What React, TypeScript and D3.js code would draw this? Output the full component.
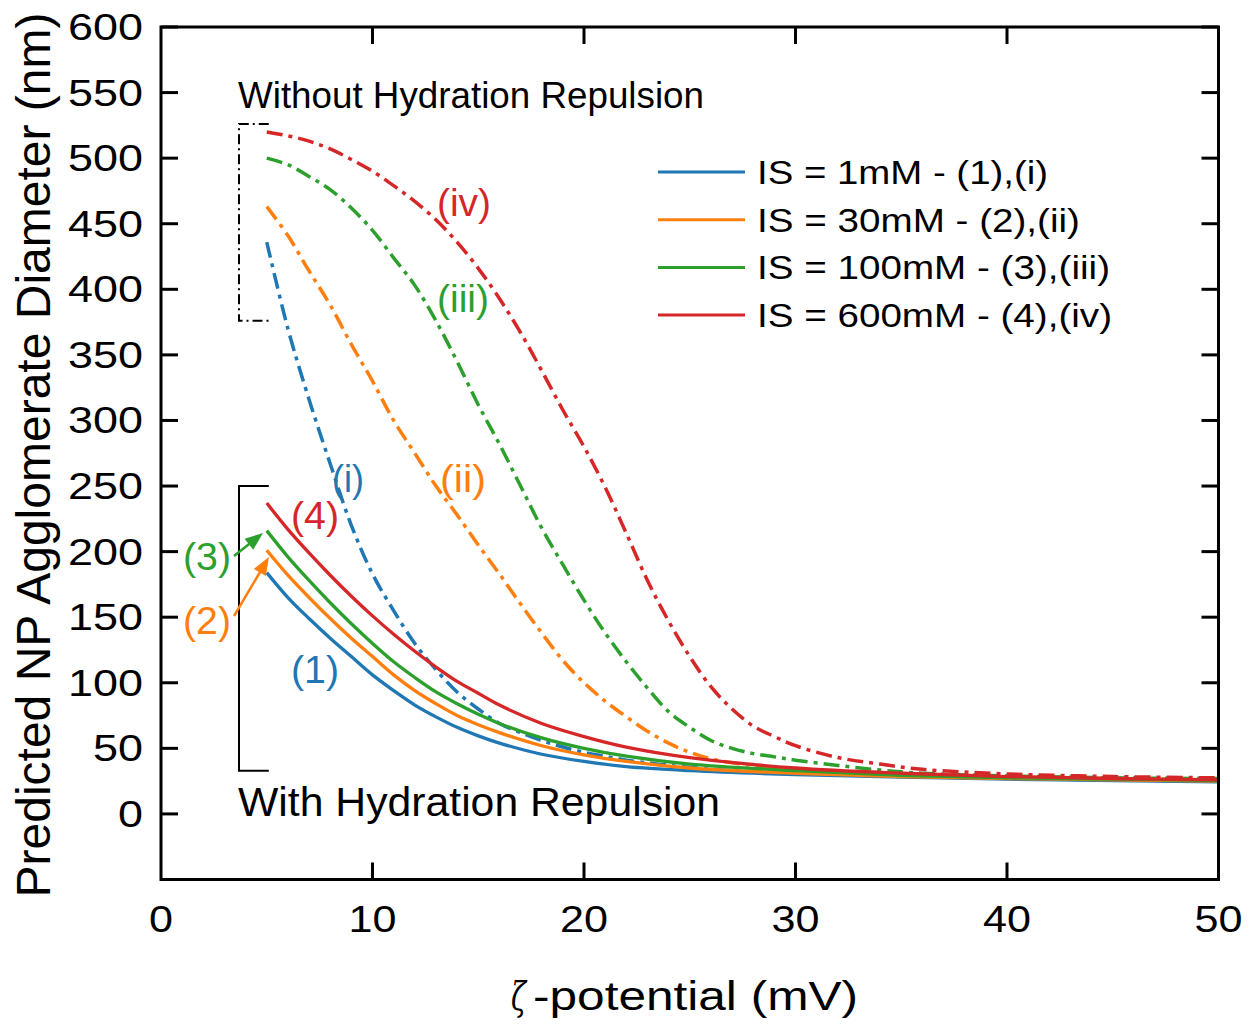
import React from "react";
import * as d3 from "d3";

// ---------- data ----------
const xTicks = [0, 10, 20, 30, 40, 50];
const yTicks = [0, 50, 100, 150, 200, 250, 300, 350, 400, 450, 500, 550, 600];

const seriesNames = ["IS = 1mM - (1),(i)", "IS = 30mM - (2),(ii)", "IS = 100mM - (3),(iii)", "IS = 600mM - (4),(iv)"];
const seriesColors = ["#1f77b4", "#ff7f0e", "#2ca02c", "#d62728"];

// With hydration repulsion (solid)
const solidX = [5, 6, 7, 8, 9, 10, 11, 12, 13, 14, 15, 16, 18, 20, 22, 25, 30, 35, 40, 45, 50];
const solid1 = [184, 165, 149, 134, 120, 106, 94, 83, 74, 66, 59.5, 54, 45.5, 40, 36, 33, 30, 28, 26.5, 25.5, 24.5];
const solid2 = [201, 182, 165, 149, 134, 120, 106, 94, 84, 75, 68, 62, 52, 45, 40, 35, 31, 28.5, 27, 26, 25];
const solid3 = [216, 196, 178, 161, 145, 130, 116, 104, 93, 84, 76, 69, 58, 50, 44, 38, 33, 29.5, 27.5, 26.5, 25.5];
const solid4 = [237, 217, 199, 182, 166, 151, 137, 124, 112, 101, 92, 83, 69, 59, 51, 43, 35, 31, 28.5, 27, 26];

// Without hydration repulsion (dash-dot)
const dashX = [5, 6, 7, 8, 9, 10, 11, 12, 13, 14, 15, 16, 17, 18, 19, 20, 21, 22, 23, 24, 25, 26, 27, 28, 29, 30, 32, 34, 36, 40, 45, 50];
const dash1 = [436, 370, 316, 267, 220, 183, 155, 130, 110, 93, 80, 69, 62, 56, 51, 47, 44, 41, 39, 37, 35.5, 34, 33, 32, 31.5, 31, 30, 29, 28.5, 27, 26, 25];
const dash2 = [463, 441, 414, 388, 358, 330, 300, 275, 250, 228, 205, 183, 160, 138, 117, 100, 86, 74, 63, 54, 47, 42, 39, 37, 35, 34, 32, 30.5, 29.5, 28, 27, 26];
const dash3 = [500, 495, 486, 476, 462, 445, 424, 403, 376, 345, 312, 282, 250, 218, 190, 163, 138, 116, 96, 78, 66, 56, 50, 46, 43.5, 41, 37, 33.5, 31, 29, 27.5, 27];
const dash4 = [520, 517, 513, 507, 499, 490, 479, 467, 453, 436, 416, 393, 367, 338, 308, 280, 249, 214, 178, 147, 120, 97, 80, 67, 59, 52, 43, 38, 34, 30.5, 28.5, 27.5];

const solidSeries = [solid1, solid2, solid3, solid4];
const dashSeries = [dash1, dash2, dash3, dash4];

const solidLabels = ["(1)", "(2)", "(3)", "(4)"];
const dashLabels = ["(i)", "(ii)", "(iii)", "(iv)"];

// ---------- layout ----------
const W = 1257;
const H = 1024;
const left = 161;
const right = 1218.5;
const top = 27;
const bottom = 879.5;
const font = "Liberation Sans, Arial, sans-serif";

const x = d3.scaleLinear().domain([0, 50]).range([left, right]);
const y = d3.scaleLinear().domain([-50, 600]).range([bottom, top]);

const line = d3
  .line<[number, number]>()
  .x((d) => x(d[0]))
  .y((d) => y(d[1]))
  .curve(d3.curveCatmullRom.alpha(0.5));

const T = (props: any) => (
  <text fontFamily={font} lengthAdjust="spacingAndGlyphs" {...props} />
);

function Arrow({ x1, y1, x2, y2, color }: { x1: number; y1: number; x2: number; y2: number; color: string }) {
  const dx = x2 - x1;
  const dy = y2 - y1;
  const len = Math.hypot(dx, dy);
  const ux = dx / len;
  const uy = dy / len;
  const hl = 18;
  const hw = 7;
  const bx = x2 - ux * hl;
  const by = y2 - uy * hl;
  const pts = [
    [x2, y2],
    [bx - uy * hw, by + ux * hw],
    [bx + uy * hw, by - ux * hw],
  ];
  return (
    <g>
      <line x1={x1} y1={y1} x2={bx + ux * 2} y2={by + uy * 2} stroke={color} strokeWidth={2.5} />
      <polygon points={pts.map((p) => p.join(",")).join(" ")} fill={color} />
    </g>
  );
}

export default function App() {
  const tickLen = 17;
  const dashPattern = "16,6,4,6";
  return (
    <svg width={W} height={H} style={{ position: "absolute", left: 0, top: 0, background: "#fff" }}>
      {/* data: dash-dot */}
      {dashSeries.map((vals, i) => (
        <path
          key={"d" + i}
          d={line(dashX.map((xx, j) => [xx, vals[j]]) as [number, number][]) || ""}
          fill="none"
          stroke={seriesColors[i]}
          strokeWidth={3.5}
          strokeDasharray={dashPattern}
        />
      ))}
      {/* data: solid */}
      {solidSeries.map((vals, i) => (
        <path
          key={"s" + i}
          d={line(solidX.map((xx, j) => [xx, vals[j]]) as [number, number][]) || ""}
          fill="none"
          stroke={seriesColors[i]}
          strokeWidth={3.3}
        />
      ))}

      {/* frame */}
      <rect x={left} y={top} width={right - left} height={bottom - top} fill="none" stroke="#000" strokeWidth={3} />

      {/* y ticks left & right */}
      {yTicks.map((t) => (
        <g key={"y" + t}>
          <line x1={left} x2={left + tickLen} y1={y(t)} y2={y(t)} stroke="#000" strokeWidth={3} />
          <line x1={right} x2={right - tickLen} y1={y(t)} y2={y(t)} stroke="#000" strokeWidth={3} />
          <T x={143} y={y(t) + 13} fontSize={36} textAnchor="end" textLength={String(t).length * 25}>
            {t}
          </T>
        </g>
      ))}

      {/* x ticks bottom & top */}
      {xTicks.map((t) => (
        <g key={"x" + t}>
          {t > 0 && t < 50 && (
            <>
              <line x1={x(t)} x2={x(t)} y1={bottom} y2={bottom - tickLen} stroke="#000" strokeWidth={3} />
              <line x1={x(t)} x2={x(t)} y1={top} y2={top + tickLen} stroke="#000" strokeWidth={3} />
            </>
          )}
          <T x={x(t)} y={932} fontSize={36} textAnchor="middle" textLength={String(t).length * 24}>
            {t}
          </T>
        </g>
      ))}

      {/* axis titles */}
      <T x={0} y={0} fontSize={48} textAnchor="middle" textLength={885} transform={`translate(50,455) rotate(-90)`}>
        Predicted NP Agglomerate Diameter (nm)
      </T>
      <text
        x={511}
        y={1010}
        fontSize={40}
        fontFamily="DejaVu Serif, serif"
        fontStyle="italic"
        textLength={15}
        lengthAdjust="spacingAndGlyphs"
      >
        ζ
      </text>
      <T x={533} y={1010} fontSize={40} textLength={325}>
        -potential (mV)
      </T>

      {/* brackets */}
      <path
        d={`M${x(5) + 2},${y(526)} H${left + 78} V${y(376)} H${x(5) + 2}`}
        fill="none"
        stroke="#000"
        strokeWidth={2}
        strokeDasharray="10,4,2,4"
      />
      <path d={`M${x(5) + 2},${y(250)} H${left + 78} V${y(33)} H${x(5) + 2}`} fill="none" stroke="#000" strokeWidth={2} />
      <T x={238} y={108} fontSize={36} textLength={466}>
        Without Hydration Repulsion
      </T>
      <T x={238} y={816} fontSize={41} textLength={482}>
        With Hydration Repulsion
      </T>

      {/* arrows */}
      <Arrow x1={234} y1={556} x2={263} y2={533} color={seriesColors[2]} />
      <Arrow x1={234} y1={616} x2={269} y2={557} color={seriesColors[1]} />

      {/* curve labels */}
      <T x={315} y={683} fontSize={38} textAnchor="middle" fill={seriesColors[0]} textLength={48}>
        {solidLabels[0]}
      </T>
      <T x={207} y={634} fontSize={38} textAnchor="middle" fill={seriesColors[1]} textLength={48}>
        {solidLabels[1]}
      </T>
      <T x={207} y={570} fontSize={38} textAnchor="middle" fill={seriesColors[2]} textLength={48}>
        {solidLabels[2]}
      </T>
      <T x={315} y={529} fontSize={38} textAnchor="middle" fill={seriesColors[3]} textLength={48}>
        {solidLabels[3]}
      </T>
      <T x={348} y={492} fontSize={38} textAnchor="middle" fill={seriesColors[0]} textLength={32}>
        {dashLabels[0]}
      </T>
      <T x={463} y={492} fontSize={38} textAnchor="middle" fill={seriesColors[1]} textLength={46}>
        {dashLabels[1]}
      </T>
      <T x={463} y={312} fontSize={38} textAnchor="middle" fill={seriesColors[2]} textLength={52}>
        {dashLabels[2]}
      </T>
      <T x={464} y={216} fontSize={38} textAnchor="middle" fill={seriesColors[3]} textLength={54}>
        {dashLabels[3]}
      </T>

      {/* legend */}
      {seriesNames.map((n, i) => {
        const ly = 172 + i * 47.7;
        const lens = [291, 323, 353, 355];
        return (
          <g key={"l" + i}>
            <line x1={658} x2={745} y1={ly} y2={ly} stroke={seriesColors[i]} strokeWidth={3} />
            <T x={757} y={ly + 12} fontSize={34} textLength={lens[i]}>
              {n}
            </T>
          </g>
        );
      })}
    </svg>
  );
}
